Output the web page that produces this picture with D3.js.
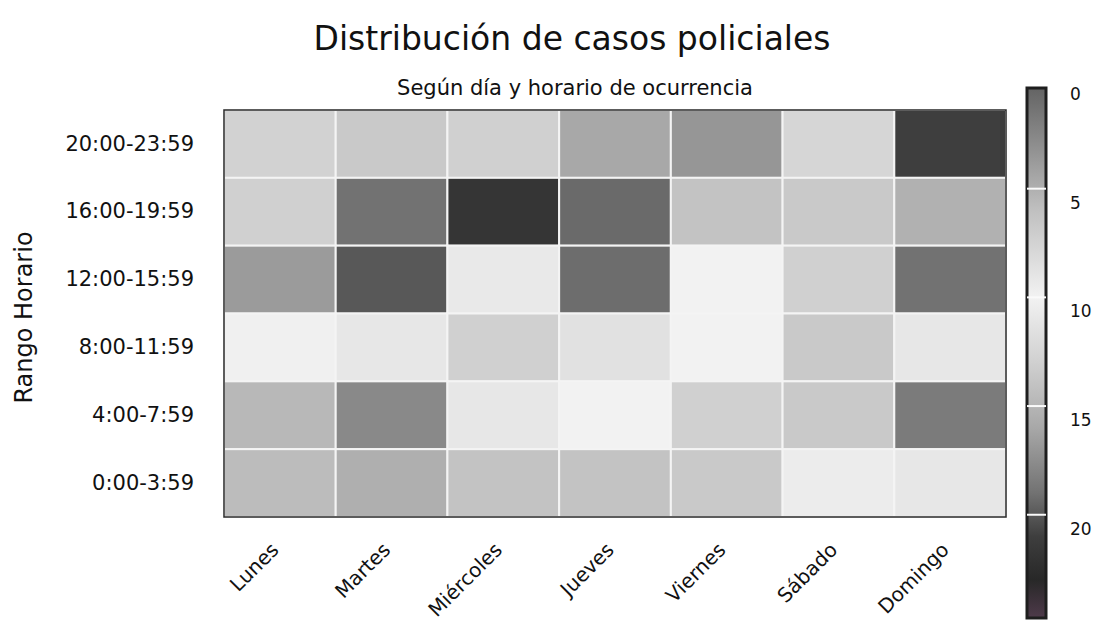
<!DOCTYPE html>
<html>
<head>
<meta charset="utf-8">
<script src="https://cdn.jsdelivr.net/npm/d3@7"></script>
<style>
  html, body { margin: 0; padding: 0; background: #fff; }
  svg { display: block; font-family: "DejaVu Sans", sans-serif; }
</style>
</head>
<body>
<div id="chart"></div>
<script>
// dias (columnas) y rangos horarios (filas, de arriba hacia abajo)
const dias = ['Lunes', 'Martes', 'Miércoles', 'Jueves', 'Viernes', 'Sábado', 'Domingo'];
const rangos = ['20:00-23:59', '16:00-19:59', '12:00-15:59', '8:00-11:59', '4:00-7:59', '0:00-3:59'];

// casos por rango horario, un array por fila (en el orden de dias)
const casos_20_24 = [12.8, 13.5, 13, 16, 17, 12.5, 21];
const casos_16_20 = [13, 19, 21.8, 19.3, 14, 13.5, 15.3];
const casos_12_16 = [16.7, 20, 10.8, 19.2, 10, 13, 19];
const casos_8_12  = [10.2, 11, 13, 11.5, 10, 13.5, 11];
const casos_4_8   = [14.8, 17.7, 11, 10, 13, 13.5, 18.5];
const casos_0_4   = [14.5, 15.5, 14, 14, 13.5, 10.5, 11];
const filas = [casos_20_24, casos_16_20, casos_12_16, casos_8_12, casos_4_8, casos_0_4];

// escala de la barra de color
const ticksColor = [0, 5, 10, 15, 20];
const paradasValor = [0, 3, 6, 10, 13, 16, 19, 21, 23, 24.75];
const paradasGris = ['#5e5e5e', '#8e8e8e', '#c0c0c0', '#f2f2f2', '#d0d0d0', '#a8a8a8', '#727272', '#3e3e3e', '#282828', '#4e3a4a'];

const width = 1104;
const height = 623;
const margin = { top: 110, right: 98, bottom: 106, left: 224 };

const svg = d3.select('#chart')
  .append('svg')
  .attr('width', width)
  .attr('height', height);

// Titulo y subtitulo
svg.append('text')
  .attr('x', 572)
  .attr('y', 50)
  .attr('text-anchor', 'middle')
  .style('font-size', '33px')
  .style('fill', '#111')
  .text('Distribución de casos policiales');

svg.append('text')
  .attr('x', 575)
  .attr('y', 95)
  .attr('text-anchor', 'middle')
  .style('font-size', '21px')
  .style('fill', '#111')
  .text('Según día y horario de ocurrencia');

// Escalas
const x = d3.scaleBand()
  .domain(dias)
  .range([margin.left, width - margin.right])
  .padding(0);

const y = d3.scaleBand()
  .domain(rangos)
  .range([margin.top, height - margin.bottom])
  .padding(0);

const color = d3.scaleLinear()
  .domain(paradasValor)
  .range(paradasGris)
  .clamp(true);

// Celdas
const celdas = [];
rangos.forEach((r, i) => {
  dias.forEach((d, j) => celdas.push({ dia: d, rango: r, valor: filas[i][j] }));
});

svg.append('g')
  .selectAll('rect')
  .data(celdas)
  .join('rect')
  .attr('x', d => x(d.dia))
  .attr('y', d => y(d.rango))
  .attr('width', x.bandwidth())
  .attr('height', y.bandwidth())
  .attr('fill', d => color(d.valor))
  .attr('stroke', '#f4f4f4')
  .attr('stroke-width', 2);

// Borde del area del grafico
svg.append('rect')
  .attr('x', margin.left)
  .attr('y', margin.top)
  .attr('width', width - margin.left - margin.right)
  .attr('height', height - margin.top - margin.bottom)
  .attr('fill', 'none')
  .attr('stroke', '#2a2a2a')
  .attr('stroke-width', 1.5);

// Eje Y
svg.append('g')
  .attr('transform', `translate(${margin.left - 8},0)`)
  .call(d3.axisLeft(y).tickSize(0).tickPadding(22))
  .call(g => g.select('.domain').remove())
  .call(g => g.selectAll('text')
    .style('font-size', '21px')
    .style('font-family', '"DejaVu Sans", sans-serif')
    .style('fill', '#111'));

svg.append('text')
  .attr('transform', `translate(32,${(margin.top + height - margin.bottom) / 2 + 4}) rotate(-90)`)
  .attr('text-anchor', 'middle')
  .style('font-size', '24px')
  .style('fill', '#111')
  .text('Rango Horario');

// Eje X
svg.append('g')
  .attr('transform', `translate(0,${height - margin.bottom})`)
  .call(d3.axisBottom(x).tickSize(0))
  .call(g => g.select('.domain').remove())
  .call(g => g.selectAll('text')
    .style('font-size', '20px')
    .style('font-family', '"DejaVu Sans", sans-serif')
    .style('fill', '#111')
    .attr('text-anchor', 'end')
    .attr('dy', 0)
    .attr('transform', 'translate(-2,32) rotate(-45)'));

// Barra de color
const barra = { x: 1027, w: 19, top: 88, bottom: 618 };
const yColor = d3.scaleLinear()
  .domain([0, 24.75])
  .range([80, barra.bottom]);

const grad = svg.append('defs')
  .append('linearGradient')
  .attr('id', 'grad-barra')
  .attr('gradientUnits', 'userSpaceOnUse')
  .attr('x1', 0).attr('y1', yColor(0))
  .attr('x2', 0).attr('y2', yColor(24.75));

grad.selectAll('stop')
  .data(paradasValor)
  .join('stop')
  .attr('offset', d => d / 24.75)
  .attr('stop-color', d => color(d));

svg.append('rect')
  .attr('x', barra.x)
  .attr('y', barra.top)
  .attr('width', barra.w)
  .attr('height', barra.bottom - barra.top)
  .attr('fill', 'url(#grad-barra)')
  .attr('stroke', '#1e1e1e')
  .attr('stroke-width', 3);

svg.append('g')
  .selectAll('line')
  .data(ticksColor.filter(d => d > 0))
  .join('line')
  .attr('x1', barra.x)
  .attr('x2', barra.x + barra.w)
  .attr('y1', d => yColor(d))
  .attr('y2', d => yColor(d))
  .attr('stroke', '#fafafa')
  .attr('stroke-width', 2);

svg.append('g')
  .selectAll('text')
  .data(ticksColor)
  .join('text')
  .attr('x', 1070)
  .attr('y', d => yColor(d) + 20)
  .style('font-size', '17px')
  .style('fill', '#111')
  .text(d => d);
</script>
</body>
</html>
